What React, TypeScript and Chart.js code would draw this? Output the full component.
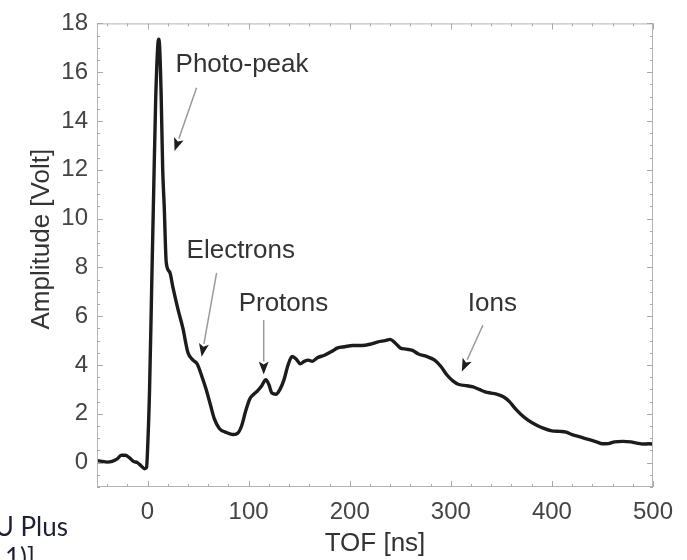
import React, { useEffect, useRef } from "react";
import { Chart, registerables } from "chart.js";

Chart.register(...registerables);

// Time of flight (ns) and detector amplitude (V)
const tofNs = [
  -50, -45, -40, -35, -30, -26, -22, -18, -14, -10, -6, -3, -1,
  0, 2, 4, 6, 8, 10, 11, 12, 13.5, 15, 16.5, 18.5, 22, 25, 30, 35, 40, 45, 49,
  54, 58, 62, 66, 71, 77, 84, 89, 93, 97, 101, 105, 109, 113, 117, 120, 123,
  127, 131, 135, 139, 143, 147, 151, 155, 159, 163, 168, 175, 182, 188, 195,
  203, 212, 220, 228, 235, 240, 245, 250, 256, 262, 268, 276, 284, 290, 296,
  302, 308, 316, 322, 328, 334, 340, 346, 352, 358, 364, 370, 376, 384, 392,
  400, 408, 414, 420, 428, 436, 444, 450, 456, 462, 470, 478, 484, 490, 496,
  500,
];
const amplitudeV = [
  0.08, 0.05, 0.02, 0.05, 0.15, 0.3, 0.3, 0.2, 0.05, 0.0, -0.15, -0.25, -0.2,
  0.5, 3, 7, 11, 14.8, 17.0, 17.35, 17.0, 15, 12.0, 10.5, 8.2, 7.8, 7.2, 6.3,
  5.5, 4.5, 4.2, 4.05, 3.5, 3.0, 2.4, 1.8, 1.4, 1.25, 1.15, 1.2, 1.5, 2.1, 2.6,
  2.8, 2.95, 3.15, 3.4, 3.2, 2.85, 2.8, 3.0, 3.4, 4.0, 4.35, 4.25, 4.05, 4.15,
  4.2, 4.15, 4.3, 4.4, 4.55, 4.7, 4.75, 4.8, 4.8, 4.85, 4.95, 5.0, 5.05, 4.9,
  4.7, 4.65, 4.6, 4.45, 4.35, 4.2, 3.95, 3.6, 3.35, 3.2, 3.15, 3.1, 3.0, 2.9,
  2.85, 2.8, 2.7, 2.5, 2.2, 1.95, 1.75, 1.55, 1.4, 1.3, 1.28, 1.25, 1.15,
  1.05, 0.95, 0.85, 0.77, 0.78, 0.85, 0.87, 0.85, 0.8, 0.76, 0.77, 0.76,
];

const xTickValues = [0, 100, 200, 300, 400, 500];
const yTickValues = [0, 2, 4, 6, 8, 10, 12, 14, 16, 18];
const xMinorStep = 20;
const yMinorStep = 0.5;

// Callouts: label text, label anchor (left, middle) and arrow tail/head in data units
const calloutLabels = ["Photo-peak", "Electrons", "Protons", "Ions"];
const calloutTextX = [27.7, 38.6, 90.1, 316.8];
const calloutTextY = [16.3, 8.67, 6.49, 6.49];
const arrowTailX = [48.5, 68.3, 114.9, 331.7];
const arrowTailY = [15.36, 7.78, 5.84, 5.63];
const arrowHeadX = [26.7, 53.5, 114.9, 310.9];
const arrowHeadY = [12.77, 4.34, 3.61, 3.73];

const FONT = "'Liberation Sans', Arial, Helvetica, sans-serif";

const framePlugin = {
  id: "frameAndCallouts",
  afterDatasetsDraw(chart: any) {
    const { ctx, chartArea: a, scales } = chart;
    const xs = scales.x;
    const ys = scales.y;
    ctx.save();

    // Box frame
    ctx.strokeStyle = "#b4b4b4";
    ctx.lineWidth = 1;
    ctx.strokeRect(a.left + 0.5, a.top + 0.5, a.right - a.left - 1, a.bottom - a.top - 1);

    // Inward tick marks on all four sides
    ctx.strokeStyle = "#a8a8a8";
    ctx.beginPath();
    for (let v = xs.min; v <= xs.max + 1e-9; v += 1) {
      const isMajor = xTickValues.includes(v);
      const isMinor = Math.abs(v % xMinorStep) < 1e-9;
      if (!isMajor && !isMinor) continue;
      const len = isMajor ? 6 : 3;
      const px = Math.round(xs.getPixelForValue(v)) + 0.5;
      ctx.moveTo(px, a.bottom);
      ctx.lineTo(px, a.bottom - len);
      ctx.moveTo(px, a.top);
      ctx.lineTo(px, a.top + len);
    }
    for (let k = Math.ceil(ys.min / yMinorStep); k * yMinorStep <= ys.max + 1e-9; k++) {
      const v = k * yMinorStep;
      const isMajor = yTickValues.includes(v);
      const len = isMajor ? 6 : 3;
      const py = Math.round(ys.getPixelForValue(v)) + 0.5;
      ctx.moveTo(a.left, py);
      ctx.lineTo(a.left + len, py);
      ctx.moveTo(a.right, py);
      ctx.lineTo(a.right - len, py);
    }
    ctx.stroke();

    // Callout arrows and labels
    for (let i = 0; i < calloutLabels.length; i++) {
      const x1 = xs.getPixelForValue(arrowTailX[i]);
      const y1 = ys.getPixelForValue(arrowTailY[i]);
      const x2 = xs.getPixelForValue(arrowHeadX[i]);
      const y2 = ys.getPixelForValue(arrowHeadY[i]);
      const ang = Math.atan2(y2 - y1, x2 - x1);
      const headLen = 13;
      const headHalf = 5;
      const bx = x2 - headLen * Math.cos(ang);
      const by = y2 - headLen * Math.sin(ang);
      ctx.strokeStyle = "#9a9a9a";
      ctx.lineWidth = 1.5;
      ctx.beginPath();
      ctx.moveTo(x1, y1);
      ctx.lineTo(bx, by);
      ctx.stroke();
      ctx.fillStyle = "#1e1e1e";
      ctx.beginPath();
      ctx.moveTo(x2, y2);
      ctx.lineTo(bx + headHalf * Math.sin(ang), by - headHalf * Math.cos(ang));
      ctx.lineTo(x2 - (headLen - 3) * Math.cos(ang), y2 - (headLen - 3) * Math.sin(ang));
      ctx.lineTo(bx - headHalf * Math.sin(ang), by + headHalf * Math.cos(ang));
      ctx.closePath();
      ctx.fill();

      ctx.fillStyle = "#333";
      ctx.font = `26px ${FONT}`;
      ctx.textAlign = "left";
      ctx.textBaseline = "middle";
      ctx.fillText(
        calloutLabels[i],
        xs.getPixelForValue(calloutTextX[i]),
        ys.getPixelForValue(calloutTextY[i])
      );
    }

    // Axis titles
    ctx.fillStyle = "#333";
    ctx.font = `26px ${FONT}`;
    ctx.textAlign = "center";
    ctx.textBaseline = "middle";
    ctx.fillText("TOF [ns]", (a.left + a.right) / 2, a.bottom + 57);
    ctx.translate(a.left - 55, (a.top + a.bottom) / 2 - 16);
    ctx.rotate(-Math.PI / 2);
    ctx.fillText("Amplitude [Volt]", 0, 0);
    ctx.restore();
  },
};

const captionStyle: React.CSSProperties = {
  position: "absolute",
  whiteSpace: "nowrap",
  fontFamily: "Lato, 'Noto Sans', sans-serif",
  fontSize: 26,
  lineHeight: "30px",
  color: "#1d2033",
  textAlign: "right",
};

export default function App() {
  const canvasRef = useRef<HTMLCanvasElement | null>(null);

  useEffect(() => {
    document.body.style.margin = "0";
    const canvas = canvasRef.current;
    if (!canvas) return;
    const points = tofNs.map((t, i) => ({ x: t, y: amplitudeV[i] }));
    const chart = new Chart(canvas, {
      type: "line",
      data: {
        datasets: [
          {
            data: points,
            borderColor: "#1c1c1c",
            borderWidth: 3.4,
            pointRadius: 0,
            fill: false,
            cubicInterpolationMode: "monotone",
          },
        ],
      },
      options: {
        responsive: false,
        animation: false,
        devicePixelRatio: 1,
        layout: { padding: { top: 16, right: 34, left: 0, bottom: 0 } },
        plugins: {
          legend: { display: false },
          tooltip: { enabled: false },
          title: { display: false },
        },
        scales: {
          x: {
            type: "linear",
            min: -50,
            max: 500,
            grid: { display: false, drawTicks: false },
            border: { display: false },
            afterBuildTicks: (s: any) => {
              s.ticks = xTickValues.map((v) => ({ value: v }));
            },
            afterFit: (s: any) => {
              s.height = 73;
            },
            ticks: {
              padding: 11,
              color: "#444",
              font: { family: FONT, size: 24 },
              maxRotation: 0,
              autoSkip: false,
            },
          },
          y: {
            type: "linear",
            min: -1,
            max: 18,
            grid: { display: false, drawTicks: false },
            border: { display: false },
            afterBuildTicks: (s: any) => {
              s.ticks = yTickValues.map((v) => ({ value: v }));
            },
            afterFit: (s: any) => {
              s.width = 97;
            },
            ticks: {
              padding: 9,
              color: "#444",
              font: { family: FONT, size: 24 },
              autoSkip: false,
            },
          },
        },
      },
      plugins: [framePlugin],
    } as any);
    return () => chart.destroy();
  }, []);

  return (
    <div
      style={{
        position: "relative",
        width: 687,
        height: 560,
        overflow: "hidden",
        background: "#fff",
      }}
    >
      <canvas
        ref={canvasRef}
        width={687}
        height={560}
        style={{ position: "absolute", left: 0, top: 0, width: 687, height: 560 }}
      />
      <div style={{ ...captionStyle, right: 687 - 68, top: 511 }}>CIU Plus</div>
      <div style={{ ...captionStyle, right: 687 - 35, top: 542 }}>1)]</div>
    </div>
  );
}
